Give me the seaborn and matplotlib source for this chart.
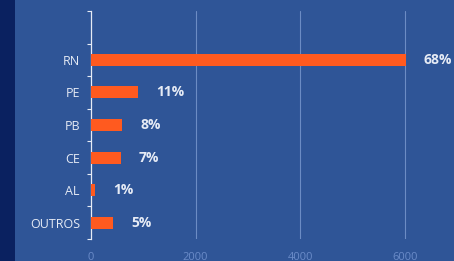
import matplotlib
matplotlib.use("Agg")
import matplotlib.pyplot as plt
import seaborn as sns
import pandas as pd

# Data
states = ["RN", "PE", "PB", "CE", "AL", "OUTROS"]
counts = [6010, 900, 600, 565, 75, 420]
pct_labels = ["68%", "11%", "8%", "7%", "1%", "5%"]
x_ticks = [0, 2000, 4000, 6000]

df = pd.DataFrame({"state": states, "count": counts})

bg = "#2F5597"
navy = "#0A2160"
bar_color = "#FF5A1F"
text_color = "#E6EBF5"
grid_color = "#7C9AD0"
xtick_color = "#6A8BC8"

sns.set_theme(style="white")
plt.rcParams["font.family"] = ["Open Sans", "DejaVu Sans"]

fig = plt.figure(figsize=(4.54, 2.61), dpi=100)
fig.patch.set_facecolor(bg)

# dark strip on the left edge
strip = fig.add_axes([0, 0, 15 / 454, 1])
strip.set_facecolor(navy)
strip.set_xticks([])
strip.set_yticks([])
for s in strip.spines.values():
    s.set_visible(False)

xmax = 7000
ax = fig.add_axes([91 / 454, 1 - 239 / 261, xmax * 0.05233 / 454, 228 / 261])
ax.set_facecolor(bg)

sns.barplot(data=df, y="state", x="count", orient="h", color=bar_color,
            width=0.37, saturation=1, linewidth=0, ax=ax, zorder=3)

ax.set_xlim(0, xmax)
ax.set_ylim(5.5, -1.5)

# vertical grid
for v in x_ticks[1:]:
    ax.axvline(v, color=grid_color, lw=0.8, alpha=0.8, zorder=1)

ax.set_xticks(x_ticks)
ax.set_xticklabels([str(t) for t in x_ticks], color=xtick_color, fontsize=8)
ax.tick_params(axis="x", length=0, pad=9)

ax.set_yticks(range(len(states)))
ax.set_yticklabels(states, color=text_color, fontsize=9)
ax.set_yticks([i - 0.5 for i in range(len(states) + 1)] + [-1.5], minor=True)
ax.tick_params(axis="y", which="major", left=False, length=0, pad=8)
ax.tick_params(axis="y", which="minor", left=True, length=3, width=0.8, color=text_color)

for side in ["top", "right", "bottom"]:
    ax.spines[side].set_visible(False)
ax.spines["left"].set_color(text_color)
ax.spines["left"].set_linewidth(0.9)

ax.set_xlabel("")
ax.set_ylabel("")

ax.bar_label(ax.containers[0], labels=pct_labels, padding=13, color=text_color,
             fontsize=10, fontweight="bold")

plt.savefig("out.png", dpi=100, facecolor=bg)
